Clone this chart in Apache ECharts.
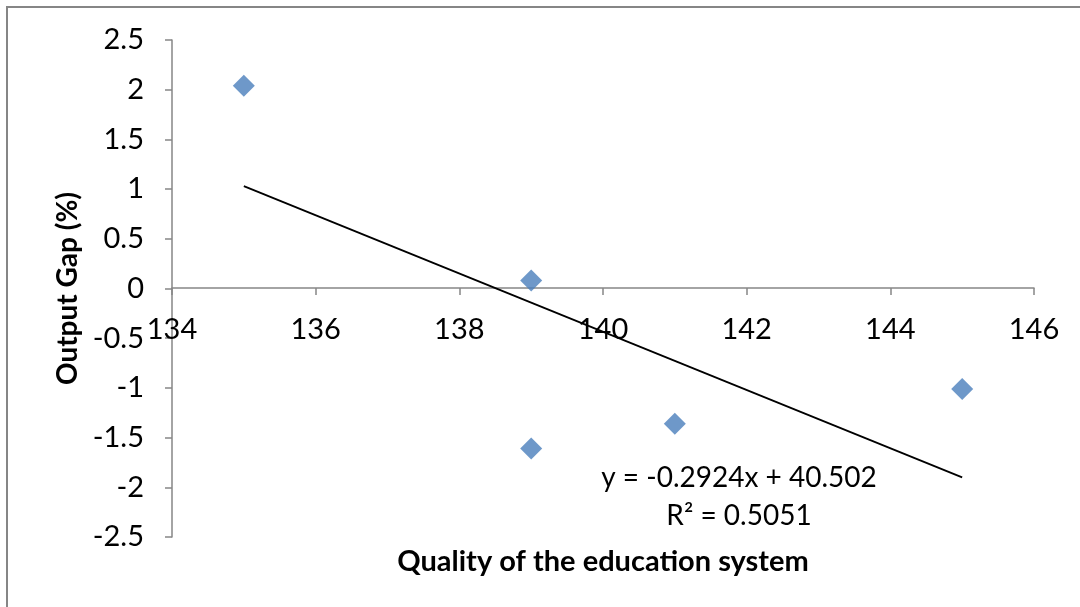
<!DOCTYPE html>
<html><head><meta charset="utf-8">
<script src="https://cdn.jsdelivr.net/npm/echarts@6/dist/echarts.min.js"></script>
<style>html,body{margin:0;padding:0;background:#fff}#c{width:1080px;height:607px}</style>
</head><body><div id="c"></div>
<script>
const qualityX = [135, 139, 139, 141, 145];
const outputGapY = [2.04, 0.08, -1.61, -1.36, -1.01];
const trendX = [135, 145];
const trendY = [1.03, -1.90];
const xTicks = {min: 134, max: 146, interval: 2};
const yTicks = {min: -2.5, max: 2.5, interval: 0.5};
const eqText = 'y = -0.2924x + 40.502';
const r2Text = 'R² = 0.5051';
const xName = 'Quality of the education system';
const yName = 'Output Gap (%)';

const FONT = 'Lato';
const chart = echarts.init(document.getElementById('c'), null, {renderer: 'canvas'});
const axisGray = '#868686';
chart.setOption({
  animation: false,
  backgroundColor: '#fff',
  textStyle: {fontFamily: FONT},
  grid: {left: 172, right: 46, top: 40, bottom: 70, containLabel: false},
  xAxis: {
    type: 'value', min: xTicks.min, max: xTicks.max, interval: xTicks.interval,
    position: 'bottom', offset: -249,
    axisLine: {onZero: false, lineStyle: {color: axisGray, width: 1.5}},
    axisTick: {show: true, length: 7, lineStyle: {color: axisGray, width: 1.5}},
    axisLabel: {color: '#000', fontSize: 29, fontFamily: FONT, margin: 27, showMinLabel: true, showMaxLabel: true},
    splitLine: {show: false}
  },
  yAxis: {
    type: 'value', min: yTicks.min, max: yTicks.max, interval: yTicks.interval,
    name: yName, nameLocation: 'middle', nameGap: 86, nameRotate: 90,
    nameTextStyle: {color: '#000', fontSize: 28, fontWeight: 'bold', fontFamily: FONT},
    axisLine: {show: true, onZero: false, lineStyle: {color: axisGray, width: 1.5}},
    axisTick: {show: true, length: 7, lineStyle: {color: axisGray, width: 1.5}},
    axisLabel: {color: '#000', fontSize: 29, fontFamily: FONT, margin: 28,
      formatter: v => String(Math.round(v * 10) / 10)},
    splitLine: {show: false}
  },
  series: [
    {
      type: 'line', data: trendX.map((x, i) => [x, trendY[i]]),
      symbol: 'none', lineStyle: {color: '#000', width: 1.8}, z: 2
    },
    {
      type: 'scatter', data: qualityX.map((x, i) => [x, outputGapY[i]]),
      symbol: 'diamond', symbolSize: [22, 22],
      itemStyle: {color: '#4A7EBB'}, z: 3
    }
  ],
  graphic: [
    {type: 'rect', shape: {x: 7, y: 7, width: 1100, height: 620}, style: {fill: 'none', stroke: '#868686', lineWidth: 2}, silent: true},
    {type: 'text', x: 739, y: 478, style: {text: eqText, font: '28px ' + FONT, fill: '#000', textAlign: 'center', textVerticalAlign: 'middle'}},
    {type: 'text', x: 739, y: 516, style: {text: r2Text, font: '28px ' + FONT, fill: '#000', textAlign: 'center', textVerticalAlign: 'middle'}},
    {type: 'text', x: 603, y: 562, style: {text: xName, font: 'bold 29px ' + FONT, fill: '#000', textAlign: 'center', textVerticalAlign: 'middle'}}
  ]
});
</script></body></html>
